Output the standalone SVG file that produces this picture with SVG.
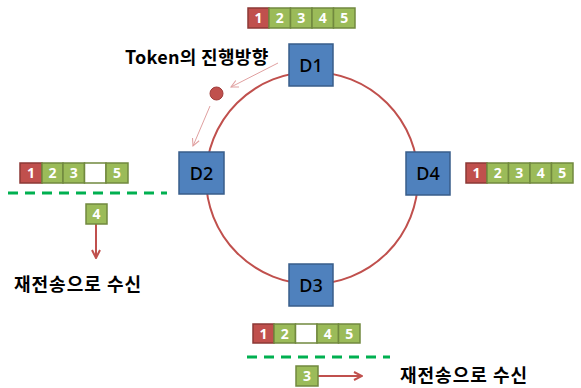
<svg xmlns="http://www.w3.org/2000/svg" width="581" height="388" viewBox="0 0 581 388">
<style>
.node{fill:#4f81bd;stroke:#385d8a;stroke-width:1.5}
.nl{font-family:"Noto Sans","Liberation Sans",sans-serif;font-size:18px;font-weight:500;fill:#000;text-anchor:middle}
.g{fill:#9bbb59;stroke:#71893f;stroke-width:1.5}
.r{fill:#c0504d;stroke:#8c3836;stroke-width:1.5}
.w{fill:#fff;stroke:#71893f;stroke-width:1.5}
.d{font-family:"Noto Sans","Liberation Sans",sans-serif;font-size:14px;font-weight:bold;fill:#fff;text-anchor:middle}
.k{font-family:"Noto Sans CJK KR",sans-serif;font-size:18px;font-weight:bold;fill:#000;letter-spacing:1px}
.dash{stroke:#00b050;stroke-width:3;stroke-dasharray:10 7;fill:none}
.ra{stroke:#c0504d;stroke-width:2;fill:none}
.ta{stroke:#e0a0a0;stroke-width:1;fill:none}
</style>
<defs>
<marker id="ah" viewBox="0 0 10 10" refX="9" refY="5" markerWidth="5" markerHeight="5" orient="auto" markerUnits="strokeWidth">
<path d="M1,1 L9,5 L1,9" fill="none" stroke="#c0504d" stroke-width="2"/>
</marker>
<marker id="th" viewBox="0 0 10 10" refX="9" refY="5" markerWidth="9" markerHeight="9" orient="auto" markerUnits="strokeWidth">
<path d="M1,1 L9,5 L1,9" fill="none" stroke="#e0a0a0" stroke-width="1.2"/>
</marker>
</defs>

<g id="connectors">
<circle cx="312" cy="178" r="106" fill="none" stroke="#c0504d" stroke-width="2"/>
<line class="ta" x1="278" y1="63" x2="231" y2="87" marker-end="url(#th)"/>
<line class="ta" x1="210" y1="106" x2="193" y2="146" marker-end="url(#th)"/>
<line class="ra" x1="96" y1="224" x2="96" y2="258" marker-end="url(#ah)"/>
<line class="ra" x1="318" y1="376" x2="362" y2="376" marker-end="url(#ah)"/>
<line class="dash" x1="8" y1="193" x2="167" y2="193"/>
<line class="dash" x1="247" y1="357" x2="390" y2="357"/>
</g>

<g id="token">
<circle cx="216.5" cy="93.5" r="6.5" fill="#c0504d" stroke="#a03a38" stroke-width="1"/>
<text class="k" x="125" y="64" style="letter-spacing:0.3px">Token의 진행방향</text>
</g>

<g id="D1"><rect class="node" x="289" y="44" width="44" height="42"/><text class="nl" x="311" y="71.5">D1</text></g>
<g id="D2"><rect class="node" x="179" y="152" width="45" height="42"/><text class="nl" x="201.5" y="179.5">D2</text></g>
<g id="D3"><rect class="node" x="289" y="264" width="44" height="42"/><text class="nl" x="311" y="291.5">D3</text></g>
<g id="D4"><rect class="node" x="406" y="152" width="44" height="43"/><text class="nl" x="428" y="180">D4</text></g>

<g id="packet-top">
<rect class="r" x="248" y="8" width="21" height="20"/>
<rect class="g" x="269" y="8" width="21.5" height="20"/>
<rect class="g" x="290.5" y="8" width="21.5" height="20"/>
<rect class="g" x="312" y="8" width="21.5" height="20"/>
<rect class="g" x="333.5" y="8" width="21.5" height="20"/>
<text class="d" x="258.5" y="23">1</text><text class="d" x="279.8" y="23">2</text><text class="d" x="301.3" y="23">3</text><text class="d" x="322.8" y="23">4</text><text class="d" x="344.3" y="23">5</text>
</g>

<g id="packet-D2">
<rect class="r" x="20" y="163" width="22" height="20"/>
<rect class="g" x="42" y="163" width="21" height="20"/>
<rect class="g" x="63" y="163" width="21.5" height="20"/>
<rect class="w" x="84.5" y="163" width="21.5" height="20"/>
<rect class="g" x="106" y="163" width="22" height="20"/>
<text class="d" x="31" y="178">1</text><text class="d" x="52.5" y="178">2</text><text class="d" x="73.8" y="178">3</text><text class="d" x="117" y="178">5</text>
</g>

<g id="packet-D4">
<rect class="r" x="466" y="163" width="21" height="20"/>
<rect class="g" x="487" y="163" width="21.5" height="20"/>
<rect class="g" x="508.5" y="163" width="21.5" height="20"/>
<rect class="g" x="530" y="163" width="21.5" height="20"/>
<rect class="g" x="551.5" y="163" width="21.5" height="20"/>
<text class="d" x="476.5" y="178">1</text><text class="d" x="497.8" y="178">2</text><text class="d" x="519.3" y="178">3</text><text class="d" x="540.8" y="178">4</text><text class="d" x="562.3" y="178">5</text>
</g>

<g id="packet-D3">
<rect class="r" x="253" y="324" width="21" height="19"/>
<rect class="g" x="274" y="324" width="21.5" height="19"/>
<rect class="w" x="295.5" y="324" width="21.5" height="19"/>
<rect class="g" x="317" y="324" width="21.5" height="19"/>
<rect class="g" x="338.5" y="324" width="21.5" height="19"/>
<text class="d" x="263.5" y="338.5">1</text><text class="d" x="284.8" y="338.5">2</text><text class="d" x="327.8" y="338.5">4</text><text class="d" x="349.3" y="338.5">5</text>
</g>

<g id="retx-4">
<rect class="g" x="86" y="204" width="21" height="20"/>
<text class="d" x="96.5" y="219">4</text>
<text class="k" x="14" y="291">재전송으로 수신</text>
</g>

<g id="retx-3">
<rect class="g" x="296" y="366" width="22" height="20"/>
<text class="d" x="307" y="381">3</text>
<text class="k" x="400" y="382">재전송으로 수신</text>
</g>
</svg>
